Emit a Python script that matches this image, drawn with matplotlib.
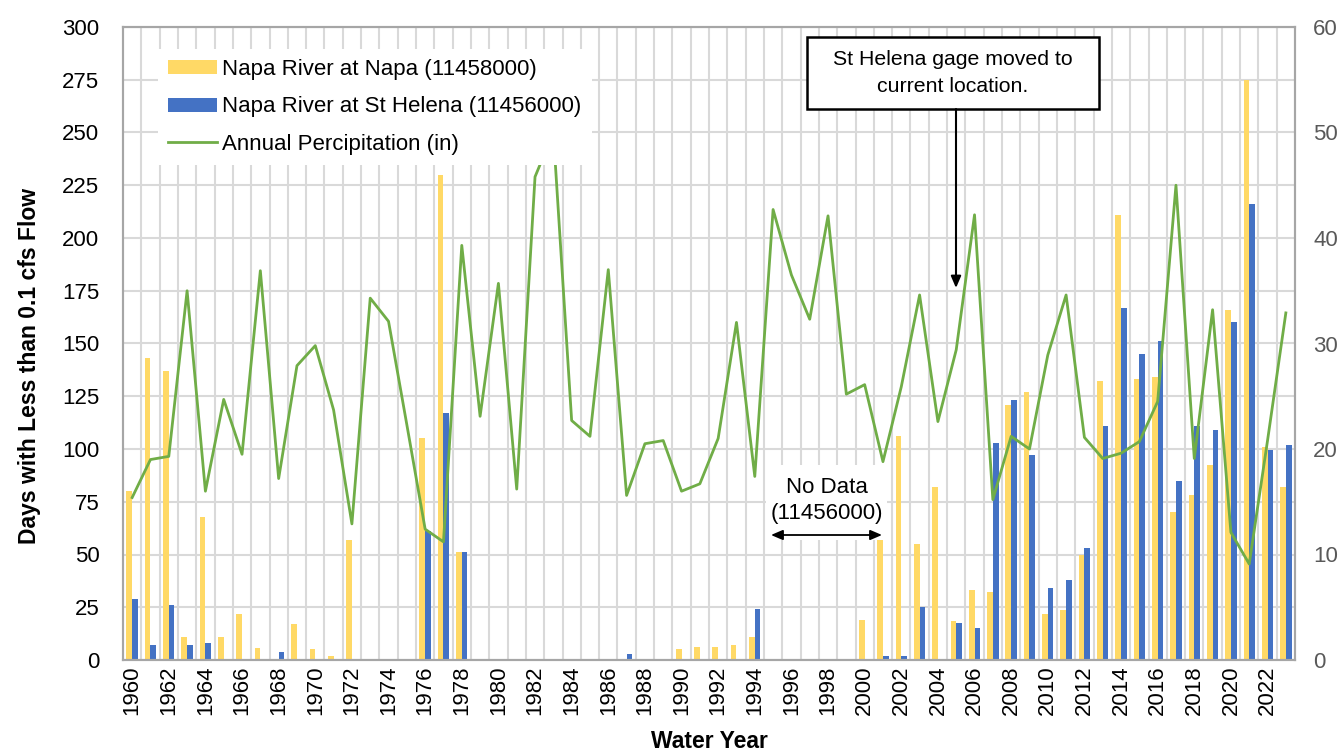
import numpy as np
import matplotlib
matplotlib.use('Agg')
import matplotlib.pyplot as plt
from matplotlib.patches import Rectangle

plt.rcParams['font.family'] = ['Liberation Sans', 'DejaVu Sans']

# Data
# ---------------------------------
years = list(range(1960, 2024))
napa_days = [80, 143, 137, 11, 68, 11, 22, 5.5, 0, 17,
             5, 2, 57, 0, 0, 0, 105, 230, 51, 0,
             0, 0, 0, 0, 0, 0, 0, 0, 0, 0,
             5, 6, 6, 7, 11, 0, 0, 0, 0, 0,
             19, 59, 106, 55, 82, 18.5, 33, 32, 121, 127,
             22, 23.5, 50, 132, 211, 133, 134, 70, 78, 92.5,
             166, 275, 101, 82]
st_helena_days = [29, 7, 26, 7, 8, 0, 0, 0, 4, 0,
                  0, 0, 0, 0, 0, 0, 61, 117, 51, 0,
                  0, 0, 0, 0, 0, 0, 0, 3, 0, 0,
                  0, 0, 0, 0, 24, 0, 0, 0, 0, 0,
                  0, 2, 2, 25, 0, 17.5, 15, 103, 123, 97,
                  34, 38, 53, 111, 167, 145, 151, 85, 111, 109,
                  160, 216, 99.5, 102]
precip_in = [15.4, 19.0, 19.3, 35.0, 16.0, 24.7, 19.5, 36.9, 17.2, 27.9,
             29.8, 23.7, 12.9, 34.3, 32.1, 22.3, 12.4, 11.2, 39.3, 23.1,
             35.7, 16.2, 45.8, 50.0, 22.7, 21.2, 37.0, 15.6, 20.5, 20.8,
             16.0, 16.7, 21.0, 32.0, 17.4, 42.7, 36.5, 32.3, 42.1, 25.2,
             26.1, 18.8, 25.9, 34.6, 22.6, 29.4, 42.2, 15.2, 21.2, 20.0,
             28.9, 34.6, 21.1, 19.1, 19.6, 20.7, 24.5, 45.0, 19.1, 33.2,
             12.1, 9.1, 20.8, 32.9]

YELLOW = '#FFD966'
BLUE = '#4472C4'
GREEN = '#70AD47'
GRID = '#D9D9D9'
SPINE = '#A6A6A6'
FS = 16

W, H = 1341, 754
fig = plt.figure(figsize=(W / 100, H / 100), dpi=100)
ax = fig.add_axes([123 / W, 1 - 660 / H, (1295 - 123) / W, (660 - 27) / H])


def fx(px):
    return (px - 123) / (1295 - 123)


def fy(py):
    return (660 - py) / (660 - 27)


x = np.arange(len(years))
bw = 0.31
ax.bar(x - bw / 2, napa_days, width=bw, color=YELLOW, zorder=2,
       label='Napa River at Napa (11458000)')
ax.bar(x + bw / 2, st_helena_days, width=bw, color=BLUE, zorder=2,
       label='Napa River at St Helena (11456000)')

ax.set_xlim(-0.5, len(years) - 0.5)
ax.set_ylim(0, 300)
ax.set_yticks(np.arange(0, 301, 25))
ax.set_xticks(x[::2])
ax.set_xticklabels([str(y) for y in years[::2]], rotation=90, fontsize=FS)
ax.set_xticks(x[:-1] + 0.5, minor=True)
ax.tick_params(axis='both', which='both', length=0)
ax.tick_params(axis='y', labelsize=FS, pad=17)
ax.tick_params(axis='x', pad=4)
ax.grid(True, axis='y', which='major', color=GRID, lw=1.5, zorder=0)
ax.grid(True, axis='x', which='minor', color=GRID, lw=1.5, zorder=0)
ax.set_axisbelow(True)
for s in ax.spines.values():
    s.set_color(SPINE)
    s.set_linewidth(1.5)

ax.set_ylabel('Days with Less than 0.1 cfs Flow', fontsize=16.5, fontweight='bold')
ax.yaxis.set_label_coords(fx(41), fy(366))
ax.set_xlabel('Water Year', fontsize=16.5, fontweight='bold')
ax.xaxis.set_label_coords(fx(709), fy(730))

# Precipitation on the secondary axis
ax2 = ax.twinx()
ax2.plot(x, precip_in, color=GREEN, lw=2.0, label='Annual Percipitation (in)')
ax2.set_ylim(0, 60)
ax2.set_yticks(np.arange(0, 61, 10))
ax2.tick_params(axis='y', length=0, labelsize=FS, labelcolor='#595959', pad=13)
for s in ax2.spines.values():
    s.set_color(SPINE)
    s.set_linewidth(1.5)

h1, l1 = ax.get_legend_handles_labels()
h2, l2 = ax2.get_legend_handles_labels()
leg = ax2.legend(h1 + h2, l1 + l2, loc='upper left',
                 bbox_to_anchor=(158 / W, 1 - 49 / H), bbox_transform=fig.transFigure,
                 borderaxespad=0, fontsize=FS, frameon=True, fancybox=False,
                 framealpha=1, facecolor='white', edgecolor='none',
                 handlelength=2.2, handleheight=0.6, handletextpad=0.25,
                 labelspacing=0.74, borderpad=0.45)

# Gage relocation note
ax2.add_patch(Rectangle((fx(807), fy(109)), fx(1099) - fx(807), fy(37) - fy(109),
                        transform=ax2.transAxes, facecolor='white', edgecolor='black',
                        lw=1.8, zorder=5))
ax2.text(fx(953), fy(73), 'St Helena gage moved to\ncurrent location.',
         transform=ax2.transAxes, ha='center', va='center', fontsize=15.3,
         linespacing=1.5, zorder=6)
ax2.annotate('', xy=(fx(956), fy(288)), xytext=(fx(956), fy(109)),
             xycoords='axes fraction', textcoords='axes fraction',
             arrowprops=dict(arrowstyle='-|>,head_length=0.7,head_width=0.3',
                             color='black', lw=1.5, shrinkA=0, shrinkB=0), zorder=6)

# No data note
ax2.add_patch(Rectangle((fx(766), fy(540)), fx(887) - fx(766), fy(465) - fy(540),
                        transform=ax2.transAxes, facecolor='white', edgecolor='none',
                        zorder=4))
ax2.text(fx(827), fy(500.5), 'No Data\n(11456000)', transform=ax2.transAxes,
         ha='center', va='center', fontsize=FS, linespacing=1.3, zorder=6)
ax2.annotate('', xy=(fx(771), fy(535)), xytext=(fx(882), fy(535)),
             xycoords='axes fraction', textcoords='axes fraction',
             arrowprops=dict(arrowstyle='<|-|>,head_length=0.7,head_width=0.3',
                             color='black', lw=1.3, shrinkA=0, shrinkB=0), zorder=6)

fig.savefig('out.png', dpi=100)
